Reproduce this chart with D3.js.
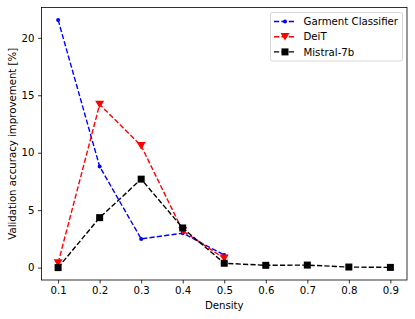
<!DOCTYPE html>
<html>
<head>
<meta charset="utf-8">
<script src="https://cdn.jsdelivr.net/npm/d3@7"></script>
<style>
  body { margin: 0; background: #fff; }
  svg text { font-family: "DejaVu Sans", sans-serif; fill: #000; }
</style>
</head>
<body>
<script>
const densities = [0.1, 0.2, 0.3, 0.4, 0.5, 0.6, 0.7, 0.8, 0.9];
const garmentX = [0.1, 0.2, 0.3, 0.4, 0.5];
const garmentY = [21.56, 8.8, 2.5, 3.0, 1.1];
const deitX = [0.1, 0.2, 0.3, 0.4, 0.5];
const deitY = [0.4, 14.2, 10.6, 3.2, 0.8];
const mistralX = [0.1, 0.2, 0.3, 0.4, 0.5, 0.6, 0.7, 0.8, 0.9];
const mistralY = [0.0, 4.35, 7.7, 3.45, 0.38, 0.2, 0.22, 0.05, 0.02];
const yTicks = [0, 5, 10, 15, 20];

const series = [
    { name: 'Garment Classifier', xs: garmentX, ys: garmentY, color: '#0000ff', marker: 'dot' },
    { name: 'DeiT', xs: deitX, ys: deitY, color: '#ff0000', marker: 'tri' },
    { name: 'Mistral-7b', xs: mistralX, ys: mistralY, color: '#000000', marker: 'square' }
];

const width = 415, height = 319;
const margin = { left: 41.5, top: 7.5, right: 8, bottom: 39 };
const fontSize = '10.2px';

const svg = d3.select('body').append('svg')
    .attr('width', width)
    .attr('height', height);

const x = d3.scaleLinear().domain([0.06, 0.94]).range([margin.left, width - margin.right]);
const y = d3.scaleLinear().domain([-1.078, 22.64]).range([height - margin.bottom, margin.top]);

// axes
const xAxis = svg.append('g')
    .attr('transform', 'translate(0,' + (height - margin.bottom) + ')')
    .call(d3.axisBottom(x).tickValues(densities).tickFormat(d3.format('.1f')).tickSize(3.5).tickPadding(3.5));
const yAxis = svg.append('g')
    .attr('transform', 'translate(' + margin.left + ',0)')
    .call(d3.axisLeft(y).tickValues(yTicks).tickSize(3.5).tickPadding(3.5));
[xAxis, yAxis].forEach(function (g) {
    g.select('.domain').remove();
    g.selectAll('text').style('font-size', fontSize).style('font-family', '"DejaVu Sans", sans-serif');
    g.selectAll('line').attr('stroke', '#000').attr('stroke-width', 0.8);
});

// frame
svg.append('rect')
    .attr('x', margin.left)
    .attr('y', margin.top)
    .attr('width', width - margin.right - margin.left)
    .attr('height', height - margin.bottom - margin.top)
    .attr('fill', 'none')
    .attr('stroke', '#000')
    .attr('stroke-width', 0.8);

// labels
svg.append('text')
    .attr('x', (margin.left + width - margin.right) / 2)
    .attr('y', 309)
    .attr('text-anchor', 'middle')
    .style('font-size', fontSize)
    .text('Density');
svg.append('text')
    .attr('transform', 'translate(15.5,' + ((margin.top + height - margin.bottom) / 2) + ') rotate(-90)')
    .attr('text-anchor', 'middle')
    .style('font-size', fontSize)
    .text('Validation accuracy improvement [%]');

function drawMarker(g, type, color, cx, cy) {
    if (type === 'dot') {
        g.append('circle').attr('cx', cx).attr('cy', cy).attr('r', 2).attr('fill', color);
    } else if (type === 'tri') {
        const s = 4.5;
        g.append('path')
            .attr('d', 'M' + (cx - s) + ',' + (cy - s * 0.85) + 'L' + (cx + s) + ',' + (cy - s * 0.85) + 'L' + cx + ',' + (cy + s * 0.85) + 'Z')
            .attr('fill', color);
    } else {
        const s = 3.5;
        g.append('rect').attr('x', cx - s).attr('y', cy - s).attr('width', 2 * s).attr('height', 2 * s).attr('fill', color);
    }
}

const line = d3.line().x(d => x(d[0])).y(d => y(d[1]));
const plot = svg.append('g');
series.forEach(function (s) {
    const pts = s.xs.map((v, i) => [v, s.ys[i]]);
    plot.append('path')
        .attr('d', line(pts))
        .attr('fill', 'none')
        .attr('stroke', s.color)
        .attr('stroke-width', 1.4)
        .attr('stroke-dasharray', '5.2,2.2');
    pts.forEach(p => drawMarker(plot, s.marker, s.color, x(p[0]), y(p[1])));
});

// legend
const legend = svg.append('g');
legend.append('rect')
    .attr('x', 270.5).attr('y', 12.5)
    .attr('width', 132).attr('height', 48.5)
    .attr('rx', 2)
    .attr('fill', '#fff').attr('fill-opacity', 0.8)
    .attr('stroke', '#ccc').attr('stroke-width', 0.8);
series.forEach(function (s, i) {
    const cy = 21.5 + i * 15.2;
    legend.append('line')
        .attr('x1', 274).attr('x2', 296)
        .attr('y1', cy).attr('y2', cy)
        .attr('stroke', s.color).attr('stroke-width', 1.4)
        .attr('stroke-dasharray', '5.2,2.2');
    drawMarker(legend, s.marker, s.color, 285, cy);
    legend.append('text')
        .attr('x', 303.5).attr('y', cy + 3.7)
        .style('font-size', fontSize)
        .text(s.name);
});
</script>
</body>
</html>
